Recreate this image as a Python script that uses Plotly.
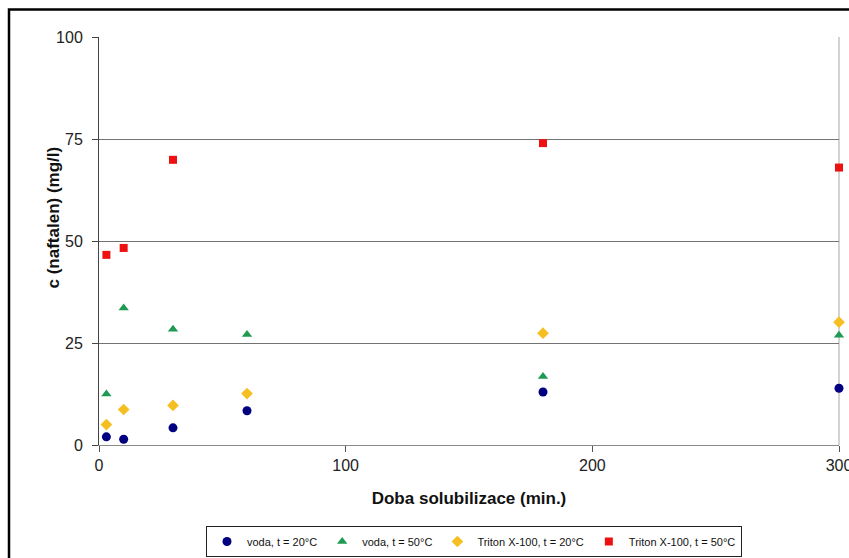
import plotly.graph_objects as go

# Solubilization time (min) for each sampling point
time_min = [3, 10, 30, 60, 180, 300]

# Naphthalene concentration (mg/l)
voda_20 = [2.0, 1.4, 4.2, 8.4, 13.0, 13.9]
voda_50 = [12.5, 33.6, 28.4, 27.1, 16.8, 26.9]
triton_20 = [5.0, 8.7, 9.7, 12.6, 27.4, 30.1]
triton_50_time = [3, 10, 30, 180, 300]
triton_50 = [46.6, 48.3, 69.9, 74.0, 68.0]

series_names = [
    "voda, t = 20°C",
    "voda, t = 50°C",
    "Triton X-100, t = 20°C",
    "Triton X-100, t = 50°C",
]

x_ticks = [0, 100, 200, 300]
y_ticks = [0, 25, 50, 75, 100]

W, H = 849, 558
L, R, T, B = 99, 10, 37, 113
pw, ph = W - L - R, H - T - B


def px_x(p):
    return (p - L) / pw


def px_y(p):
    return (H - B - p) / ph


fig = go.Figure()

fig.add_trace(go.Scatter(
    x=time_min, y=voda_20, mode="markers", name=series_names[0],
    marker=dict(symbol="circle", size=9, color="#000080"), cliponaxis=False))
fig.add_trace(go.Scatter(
    x=time_min, y=voda_50, mode="markers", name=series_names[1],
    marker=dict(symbol="triangle-up", size=9, color="#1f9a52"), cliponaxis=False))
fig.add_trace(go.Scatter(
    x=time_min, y=triton_20, mode="markers", name=series_names[2],
    marker=dict(symbol="diamond", size=9, color="#f5bf22"), cliponaxis=False))
fig.add_trace(go.Scatter(
    x=triton_50_time, y=triton_50, mode="markers", name=series_names[3],
    marker=dict(symbol="square", size=8, color="#ee1111"), cliponaxis=False))

font_family = "Liberation Sans, Arial, sans-serif"

fig.update_layout(
    width=W, height=H,
    margin=dict(l=L, r=R, t=T, b=B, autoexpand=False),
    paper_bgcolor="white", plot_bgcolor="white",
    font=dict(family=font_family, color="#222222"),
    showlegend=True,
    legend=dict(
        orientation="h", x=px_x(474), xanchor="center",
        y=px_y(526), yanchor="top",
        bordercolor="#222222", borderwidth=1,
        font=dict(size=11, color="#111111"),
        itemwidth=30, tracegroupgap=0,
    ),
    xaxis=dict(
        range=[0, 300], tickvals=x_ticks, showgrid=False, zeroline=False,
        showline=True, linecolor="#8a8a8a", linewidth=1,
        ticks="outside", ticklen=6, tickcolor="#555555",
        tickfont=dict(size=16, color="#222222"),
        ticklabeloverflow="allow",
        title=dict(text="<b>Doba solubilizace (min.)</b>",
                   font=dict(size=17, color="#111111"), standoff=18),
    ),
    yaxis=dict(
        range=[0, 100], tickvals=y_ticks, showgrid=True,
        gridcolor="#737373", gridwidth=1.2, zeroline=False,
        showline=True, linecolor="#444444", linewidth=1,
        ticks="outside", ticklen=6, tickcolor="#444444",
        tickfont=dict(size=16, color="#222222"),
        ticklabelstandoff=6,
    ),
    annotations=[dict(
        text="<b>c (naftalen) (mg/l)</b>", textangle=-90,
        xref="paper", yref="paper", x=px_x(41), y=px_y(218),
        showarrow=False, font=dict(size=17, color="#111111"),
    )],
    shapes=[
        # right edge of plot area
        dict(type="line", xref="paper", yref="paper", x0=1, x1=1, y0=0, y1=1,
             line=dict(color="#c4c4c4", width=1.5), layer="below"),
        # outer frame
        dict(type="rect", xref="paper", yref="paper",
             x0=px_x(9), x1=px_x(870), y0=px_y(590), y1=px_y(9.5),
             line=dict(color="black", width=2.5), fillcolor="rgba(0,0,0,0)"),
    ],
)

fig.write_html("out.html")
